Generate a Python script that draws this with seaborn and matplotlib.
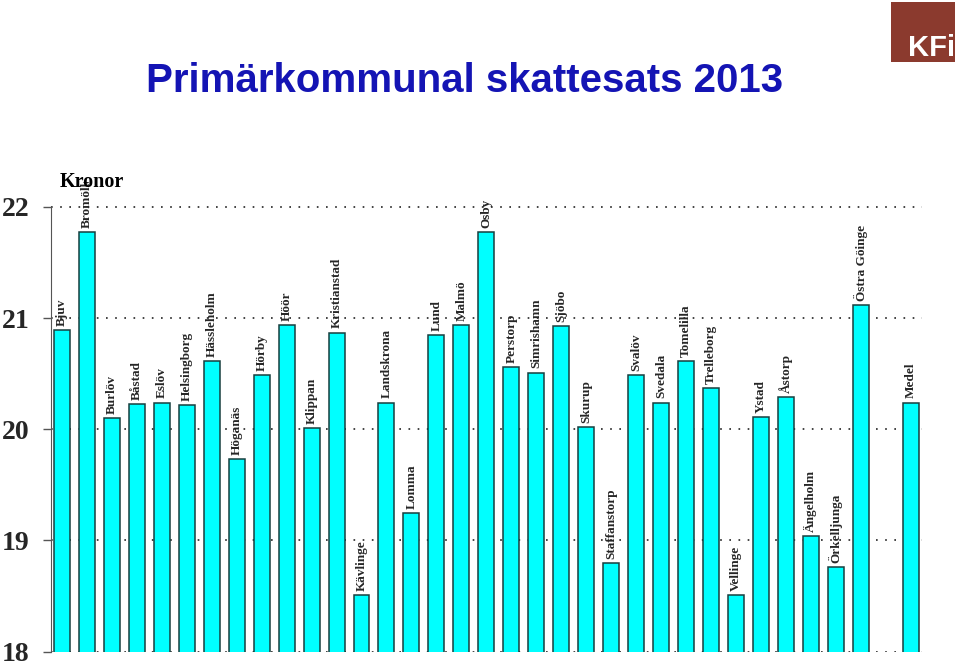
import matplotlib
matplotlib.use("Agg")
import matplotlib.pyplot as plt
import seaborn as sns
import pandas as pd
from matplotlib.patches import Rectangle

kommuner = ["Bjuv", "Bromölla", "Burlöv", "Båstad", "Eslöv", "Helsingborg", "Hässleholm",
            "Höganäs", "Hörby", "Höör", "Klippan", "Kristianstad", "Kävlinge", "Landskrona",
            "Lomma", "Lund", "Malmö", "Osby", "Perstorp", "Simrishamn", "Sjöbo", "Skurup",
            "Staffanstorp", "Svalöv", "Svedala", "Tomelilla", "Trelleborg", "Vellinge",
            "Ystad", "Åstorp", "Ängelholm", "Örkelljunga", "Östra Göinge", "Medel"]
skattesats = [20.89, 21.77, 20.10, 20.23, 20.24, 20.22, 20.61,
              19.73, 20.49, 20.94, 20.01, 20.87, 18.51, 20.24,
              19.25, 20.85, 20.94, 21.77, 20.56, 20.51, 20.93, 20.02,
              18.80, 20.49, 20.24, 20.61, 20.37, 18.51,
              20.11, 20.29, 19.04, 18.76, 21.12, 20.24]
yticks = [18, 19, 20, 21, 22]

df = pd.DataFrame({"kommun": kommuner, "skatt": skattesats})
order = kommuner[:-1] + [" "] + kommuner[-1:]

sns.set_style("white")
plt.rcParams["font.family"] = ["Liberation Serif", "DejaVu Serif"]

fig = plt.figure(figsize=(9.6, 6.63), dpi=100)
ax = fig.add_axes([0.0528, 0.01704, 0.9076, 0.7079])

sns.barplot(data=df, x="kommun", y="skatt", order=order, ax=ax, color="#00FFFF",
            width=0.64, edgecolor="#173f3f", linewidth=1.1, saturation=1,
            bottom=0, errorbar=None)

ax.set_ylim(18, 22.22)
ax.set_xlim(-0.45, 34.45)
ax.set_yticks(yticks)
ax.set_yticklabels([str(t) for t in yticks], fontsize=20, fontweight="bold")
ax.tick_params(axis="y", length=6, width=1, color="#555555", pad=9, left=True)
ax.tick_params(axis="x", bottom=False, labelbottom=False)
ax.set_xlabel("")
ax.set_ylabel("")
for s in ["top", "right", "bottom"]:
    ax.spines[s].set_visible(False)
ax.spines["left"].set_bounds(18, 22)
ax.spines["left"].set_color("#555555")
ax.yaxis.grid(True, linestyle=(0, (1, 4.5)), color="#222222", linewidth=1.2)
ax.set_axisbelow(True)

for i, name in enumerate(order):
    if name.strip() == "":
        continue
    val = skattesats[kommuner.index(name)]
    ax.annotate(name, xy=(i, val), xytext=(0, 3), textcoords="offset points",
                rotation=90, ha="center", va="bottom", fontsize=9.5,
                fontweight="bold", clip_on=True, annotation_clip=False)

fig.text(0.484, 1 - 81 / 663, "Primärkommunal skattesats 2013", ha="center", va="center",
         fontsize=29, fontweight="bold", color="#1414B4", family="Liberation Sans")
fig.text(92 / 960, 1 - 182 / 663, "Kronor", ha="center", va="center",
         fontsize=14.5, fontweight="bold", color="black", zorder=10)

fig.patches.append(Rectangle((891 / 960, 1 - 62 / 663), 64 / 960, 60 / 663,
                             transform=fig.transFigure, facecolor="#8B3A2E",
                             edgecolor="none", figure=fig))
fig.text(955 / 960, 1 - 62 / 663, "KFi", ha="right", va="bottom", fontsize=21,
         fontweight="bold", color="white", family="Liberation Sans")

fig.savefig("out.png", dpi=100)
